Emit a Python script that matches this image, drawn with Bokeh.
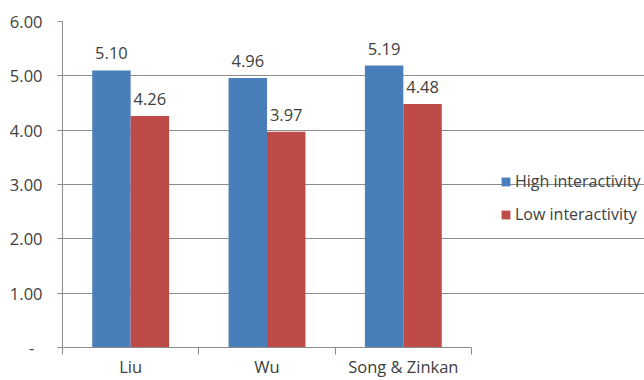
from bokeh.plotting import figure
from bokeh.models import (ColumnDataSource, Range1d, LinearAxis,
                          FixedTicker, Legend, LegendItem, PrintfTickFormatter)
from bokeh.transform import dodge
from bokeh.embed import file_html
from bokeh.resources import INLINE

# Mean ratings by study and interactivity condition
studies = ["Liu", "Wu", "Song & Zinkan"]
high_interactivity = [5.10, 4.96, 5.19]
low_interactivity = [4.26, 3.97, 4.48]
y_ticks = [0, 1, 2, 3, 4, 5, 6]

FONT = "Open Sans"
TEXT = "#404040"
GRID = "#8c8c8c"
BLUE = "#4a7ebb"
RED = "#be4b48"

# each study occupies one unit slot; bars sit around the slot centre
n = len(studies)
centres = [i + 0.5 for i in range(n)]
edges = list(range(n + 1))

source = ColumnDataSource(data=dict(
    pos=centres,
    high=high_interactivity,
    low=low_interactivity,
    high_lbl=["%.2f" % v for v in high_interactivity],
    low_lbl=["%.2f" % v for v in low_interactivity],
))

# the frame runs to the right edge so the legend can sit beside the bars;
# gridlines and axis are bounded to the study slots
W, H, LEFT = 644, 380, 62
slot_px = 409 / n
p = figure(
    width=W, height=H,
    x_range=Range1d(0, (W - LEFT) / slot_px),
    y_range=Range1d(0, 6),
    x_axis_location=None, y_axis_location=None,
    output_backend="svg", toolbar_location=None,
    min_border_left=LEFT, min_border_right=0,
    min_border_top=21, min_border_bottom=31,
)
p.outline_line_color = None
p.background_fill_color = "white"
p.border_fill_color = "white"

# value axis
yaxis = LinearAxis(ticker=FixedTicker(ticks=y_ticks),
                   formatter=PrintfTickFormatter(format="%.2f"))
yaxis.major_label_overrides = {0: "-\u2002"}
yaxis.axis_line_color = GRID
yaxis.major_tick_line_color = GRID
yaxis.major_tick_out = 5
yaxis.major_tick_in = 0
yaxis.minor_tick_line_color = None
yaxis.major_label_standoff = 15
yaxis.major_label_text_font = FONT
yaxis.major_label_text_font_size = "16.5px"
yaxis.major_label_text_color = TEXT
p.add_layout(yaxis, "left")

# slot boundary ticks along the bottom
edge_axis = LinearAxis(ticker=FixedTicker(ticks=edges), bounds=(0, n))
edge_axis.major_label_overrides = {e: "" for e in edges}
edge_axis.axis_line_color = GRID
edge_axis.major_tick_line_color = GRID
edge_axis.major_tick_out = 7
edge_axis.major_tick_in = 0
edge_axis.minor_tick_line_color = None
edge_axis.major_label_text_font_size = "1px"
edge_axis.major_label_standoff = 0
p.add_layout(edge_axis, "below")

# study names under the slot centres
cat_axis = LinearAxis(ticker=FixedTicker(ticks=centres))
cat_axis.major_label_overrides = {c: s for c, s in zip(centres, studies)}
cat_axis.axis_line_color = None
cat_axis.major_tick_line_color = None
cat_axis.minor_tick_line_color = None
cat_axis.major_label_standoff = -6
cat_axis.major_label_text_font = FONT
cat_axis.major_label_text_font_size = "16.5px"
cat_axis.major_label_text_color = TEXT
p.add_layout(cat_axis, "below")

p.ygrid.ticker = FixedTicker(ticks=y_ticks[1:])
p.ygrid.bounds = (0, n)
p.ygrid.grid_line_color = GRID
p.xgrid.grid_line_color = None

bw = 0.282
r_high = p.vbar(x=dodge("pos", -bw / 2), top="high",
                width=bw, source=source, fill_color=BLUE, line_color=None)
r_low = p.vbar(x=dodge("pos", bw / 2), top="low",
               width=bw, source=source, fill_color=RED, line_color=None)

label_style = dict(text_font_size="16.5px", text_color=TEXT,
                   text_align="center", text_baseline="middle", y_offset=-17,
                   source=source)
p.text(x=dodge("pos", -bw / 2), y="high", text="high_lbl",
       text_font={"value": FONT}, **label_style)
p.text(x=dodge("pos", bw / 2), y="low", text="low_lbl",
       text_font={"value": FONT}, **label_style)

legend = Legend(items=[LegendItem(label="High interactivity", renderers=[r_high]),
                       LegendItem(label="Low interactivity", renderers=[r_low])],
                location=(438, 122))
legend.border_line_color = None
legend.background_fill_alpha = 0
legend.padding = 0
legend.margin = 0
legend.glyph_width = 11
legend.glyph_height = 11
legend.label_height = 20
legend.spacing = 11
legend.label_standoff = 4
legend.label_text_font = FONT
legend.label_text_font_size = "16px"
legend.label_text_color = TEXT
p.add_layout(legend, "center")

open("out.html", "w").write(file_html(p, INLINE))
